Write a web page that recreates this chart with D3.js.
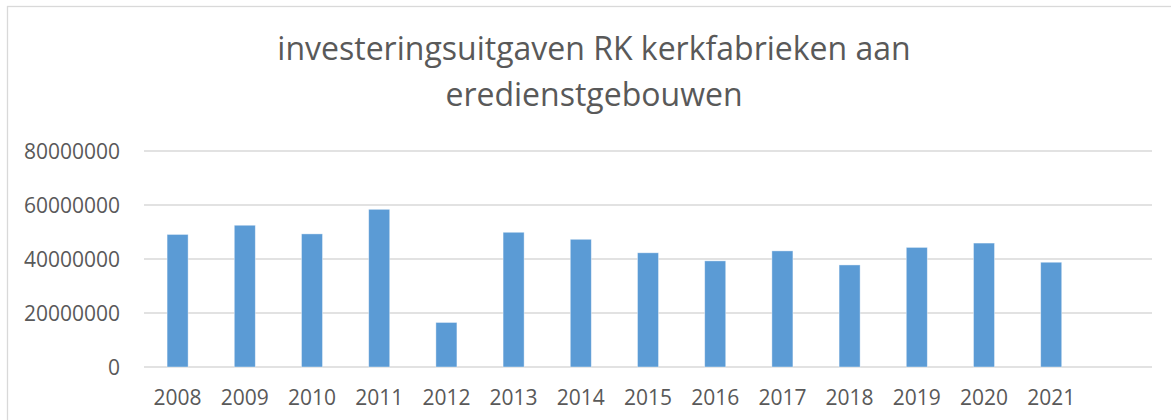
<!DOCTYPE html>
<html lang="nl">
<head>
  <meta charset="UTF-8">
  <title>investeringsuitgaven RK kerkfabrieken</title>
  <script src="https://d3js.org/d3.v7.min.js"></script>
  <style>
    body { margin: 0; background: #fff; }
    svg text { font-family: "Open Sans", sans-serif; fill: #595959; }
  </style>
</head>
<body>
  <svg id="chart"></svg>
  <script>
    // categories (last slot is empty, as in the original)
    const years = ["2008", "2009", "2010", "2011", "2012", "2013", "2014",
                   "2015", "2016", "2017", "2018", "2019", "2020", "2021", ""];
    const values = [49100000, 52500000, 49300000, 58400000, 16500000, 49900000, 47300000,
                    42300000, 39300000, 43000000, 37800000, 44300000, 45900000, 38800000, null];
    const yTicks = [0, 20000000, 40000000, 60000000, 80000000];
    const titleLines = ["investeringsuitgaven RK kerkfabrieken aan", "eredienstgebouwen"];

    const width = 1171, height = 420;
    const margin = { top: 151, right: 19, bottom: 53, left: 144 };

    const svg = d3.select("#chart").attr("width", width).attr("height", height);

    // chart area border
    svg.append("rect")
      .attr("x", 7.5).attr("y", 6.5)
      .attr("width", width + 20).attr("height", height + 20)
      .attr("fill", "none").attr("stroke", "#d9d9d9").attr("stroke-width", 1.3);

    svg.selectAll("text.title")
      .data(titleLines)
      .join("text")
      .attr("class", "title")
      .attr("x", 594)
      .attr("y", (d, i) => 60 + i * 46)
      .attr("text-anchor", "middle")
      .attr("font-size", 32)
      .text(d => d);

    const x = d3.scaleBand()
      .domain(d3.range(years.length))
      .range([margin.left, width - margin.right])
      .paddingInner(0.687)
      .paddingOuter(0.3435);

    const y = d3.scaleLinear()
      .domain([0, 80000000])
      .range([height - margin.bottom, margin.top]);

    // gridlines
    svg.append("g")
      .selectAll("line")
      .data(yTicks)
      .join("line")
      .attr("x1", margin.left).attr("x2", width - margin.right)
      .attr("y1", d => y(d)).attr("y2", d => y(d))
      .attr("stroke", "#d9d9d9").attr("stroke-width", 1.3);

    // y labels
    svg.append("g")
      .selectAll("text")
      .data(yTicks)
      .join("text")
      .attr("x", 120)
      .attr("y", d => y(d))
      .attr("dy", "0.36em")
      .attr("text-anchor", "end")
      .attr("font-size", 21)
      .text(d => d3.format("d")(d));

    // bars
    svg.append("g")
      .selectAll("rect")
      .data(values.map((v, i) => ({ i, v })).filter(d => d.v != null))
      .join("rect")
      .attr("x", d => x(d.i))
      .attr("width", x.bandwidth())
      .attr("y", d => y(d.v))
      .attr("height", d => y(0) - y(d.v))
      .attr("fill", "#5b9bd5")
      .attr("stroke", "#ffffff")
      .attr("stroke-opacity", 0.5)
      .attr("stroke-width", 0.8);

    // x labels
    svg.append("g")
      .selectAll("text")
      .data(years)
      .join("text")
      .attr("x", (d, i) => x(i) + x.bandwidth() / 2)
      .attr("y", 405)
      .attr("text-anchor", "middle")
      .attr("font-size", 21)
      .text(d => d);
  </script>
</body>
</html>
